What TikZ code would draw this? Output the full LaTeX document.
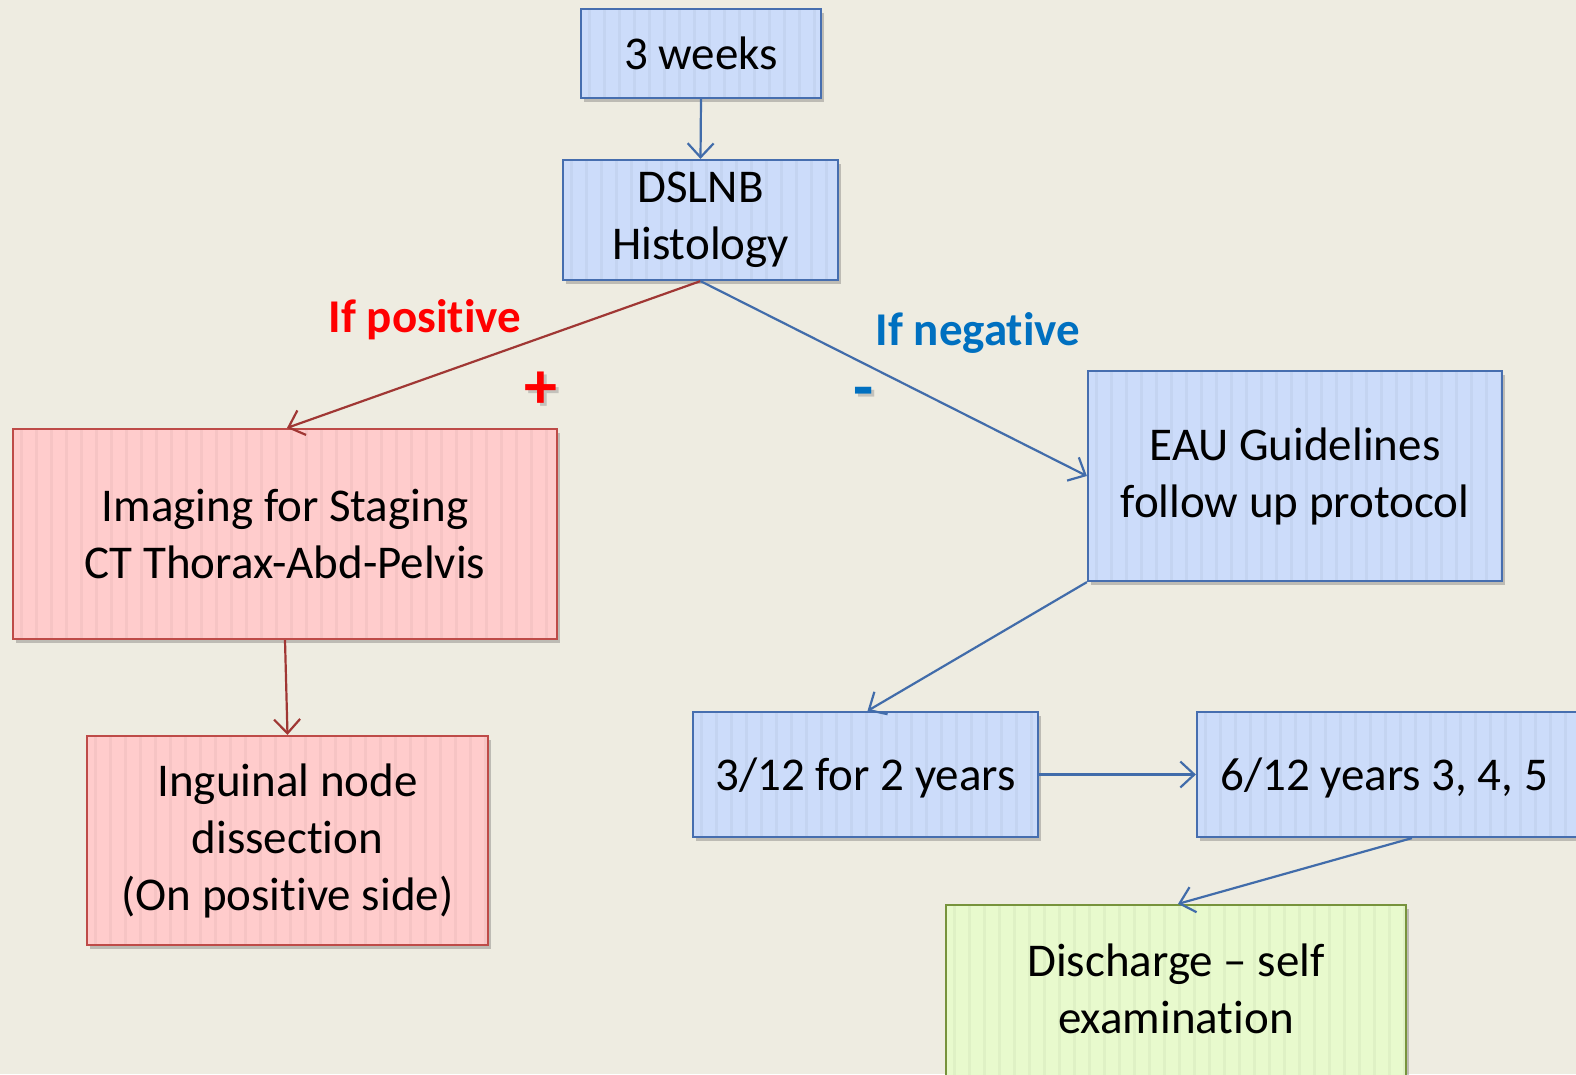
\documentclass[tikz,border=0pt]{standalone}
\usepackage{fontspec}
\setmainfont{Carlito}[RawFeature={-liga;-calt;-dlig;-clig}]
\usetikzlibrary{arrows.meta,shadows}
\newcommand\tii{t\kern0pt i}
\definecolor{bg}{RGB}{238,236,225}
\definecolor{bfill}{RGB}{204,220,250}
\definecolor{bdraw}{RGB}{70,110,175}
\definecolor{rfill}{RGB}{255,204,204}
\definecolor{rdraw}{RGB}{190,75,72}
\definecolor{gfill}{RGB}{232,250,205}
\definecolor{gdraw}{RGB}{119,147,60}
\definecolor{barrow}{RGB}{65,108,170}
\definecolor{rarrow}{RGB}{160,55,52}
\definecolor{poscol}{RGB}{255,0,0}
\definecolor{negcol}{RGB}{0,112,192}
\tikzset{
  stripes/.style={path picture={
    \foreach \k in {8,23,...,640}
      \draw[black,opacity=0.035,line width=3pt]
        ([xshift=\k pt]path picture bounding box.south west) --
        ([xshift=\k pt]path picture bounding box.north west);}},
  boxbase/.style={rectangle, line width=2.2pt, align=center, inner sep=0pt,
    font=\fontsize{47}{57}\selectfont, text=black, stripes,
    drop shadow={shadow xshift=3pt, shadow yshift=-4pt, opacity=0.3, fill=black!70}},
  bluebox/.style={boxbase, fill=bfill, draw=bdraw},
  redbox/.style={boxbase, fill=rfill, draw=rdraw},
  greenbox/.style={boxbase, fill=gfill, draw=gdraw},
  barr/.style={draw=barrow, line width=2.2pt, -{Straight Barb[length=14pt,width=26pt,line width=2.2pt]}},
  rarr/.style={draw=rarrow, line width=2.2pt, -{Straight Barb[length=14pt,width=26pt,line width=2.2pt]}},
  lbl/.style={font=\bfseries\fontsize{47}{57}\selectfont},
  sign/.style={font=\bfseries\fontsize{66}{70}\selectfont},
  plain/.style={font=\fontsize{47}{57}\selectfont, align=center},
}
\begin{document}
\begin{tikzpicture}[x=1pt,y=-1pt]
\fill[bg] (0,0) rectangle (1576,1074);
\useasboundingbox (0,0) rectangle (1576,1074);
\clip (0,0) rectangle (1576,1074);

\node[bluebox, minimum width=240pt, minimum height=89pt] (wk) at (701,53.5) {3 weeks};
\node[bluebox, minimum width=275pt, minimum height=120pt] (ds) at (700.5,220) {DSLNB\\Histology};
\node[redbox, minimum width=544pt, minimum height=210pt] (img) at (285,534) {Imaging for Staging\\CT Thorax-Abd-Pelvis};
\node[redbox, minimum width=401pt, minimum height=209pt] (ing) at (287.5,840.5) {Inguinal node\\dissec\tii on\\(On posi\tii ve side)};
\node[bluebox, minimum width=414pt, minimum height=210pt] (eau) at (1295,476) {EAU Guidelines\\follow up protocol};
\node[bluebox, minimum width=345pt, minimum height=125pt] (t312) at (865.5,774.5) {};
\node[plain] (t312t) at (865.5,778) {3/12 for 2 years};
\node[bluebox, minimum width=403pt, minimum height=125pt] (t612) at (1398.5,774.5) {};
\node[plain] (t612t) at (1384,778) {6/12 years 3, 4, 5};
\node[greenbox, minimum width=460pt, minimum height=200pt] (dis) at (1176,1005) {};
\node[plain] (dist) at (1176,989) {Discharge – self\\examina\tii on};

\node[lbl, text=poscol] (pos) at (425,320) {If posi\tii ve};
\node[lbl, text=negcol] (neg) at (978,333) {If nega\tii ve};
\node[sign, text=black!40, opacity=0.5] (plussh) at (544,393) {+};
\node[sign, text=poscol] (plus) at (541,390) {+};
\node[sign, text=black!40, opacity=0.5] (minussh) at (867,401) {-};
\node[sign, text=negcol] (minus) at (864,398) {-};

\draw[barr] (wk.south) -- (ds.north);
\draw[rarr] (ds.south) -- ([xshift=2pt]img.north);
\draw[barr] (ds.south) -- (eau.west);
\draw[rarr] (img.south) -- (ing.north);
\draw[barr] (eau.south west) -- ([xshift=2pt]t312.north);
\draw[barr] (t312.east) -- (t612.west);
\draw[barr] ([xshift=216pt]t612.south west) -- ([xshift=2pt]dis.north);
\end{tikzpicture}
\end{document}
